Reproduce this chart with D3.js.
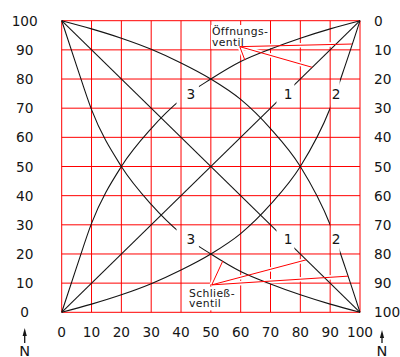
<!DOCTYPE html>
<html>
<head>
<meta charset="utf-8">
<script src="https://cdn.jsdelivr.net/npm/d3@7"></script>
<style>
  html, body { margin: 0; padding: 0; background: #fff; }
  svg { display: block; font-family: "DejaVu Sans", sans-serif; }
</style>
</head>
<body>
<svg id="chart" width="400" height="357"></svg>
<script>
// Valve stroke (%) on the x axis, flow (%) on the y axes.
const gridValues = [0, 10, 20, 30, 40, 50, 60, 70, 80, 90, 100];
const bottomTickLabels = ["0", "10", "20", "30", "40", "50", "60", "70", "80", "90", "100"];
const leftTickLabels = ["0", "10", "20", "30", "40", "50", "60", "70", "80", "90", "100"];
const rightTickLabels = ["0", "10", "20", "30", "40", "50", "60", "70", "80", "90", "100"];

// Characteristic 1: linear
const linearPts = [[0, 0], [100, 100]];
// Characteristic 2: equal-percentage type
const equalPctPts = [[0, 0], [10, 2.8], [20, 6], [30, 9.8], [40, 14.5], [50, 20], [60, 27],
                     [70, 37], [80, 50], [90, 70], [95, 84.5], [100, 100]];
// Characteristic 3: quick-opening type
const quickPts = [[0, 0], [5, 15.5], [10, 30.5], [20, 50], [30, 63], [40, 73], [50, 80],
                  [60, 86], [70, 90.3], [80, 94], [90, 97.2], [100, 100]];

const curveNames = ["1", "2", "3"];
const curveSeries = [linearPts, equalPctPts, quickPts];

const openingLabel = ["Öffnungs-", "ventil"];
const closingLabel = ["Schließ-", "ventil"];

// ---- layout ----
const W = 400, H = 357;
const plot = { left: 61.7, right: 360, top: 20.7, bottom: 312.3 };
const curveGaps = [[72, 78], [90, 93.2], [38.5, 46]];       // label gaps along the x axis
const curveLabelX = [75.9, 92, 43.3];
const curveLabelLevel = 75;                                  // on each valve's own axis
const openingLeader = { from: [59.7, 91.1], to: [[61.4, 86.5], [84, 84], [97.3, 92]] };
const closingLeader = { from: [50.3, 90.6], to: [[54, 82.4], [82, 82], [96, 87.6]] };

const svg = d3.select("#chart");
const x = d3.scaleLinear().domain([0, 100]).range([plot.left, plot.right]);
const yOpen = d3.scaleLinear().domain([0, 100]).range([plot.bottom, plot.top]);
const yClose = d3.scaleLinear().domain([0, 100]).range([plot.top, plot.bottom]);

const RED = "#ff0000";
const INK = "#151515";

// ---- grid ----
const grid = svg.append("g").attr("stroke", RED).attr("stroke-width", 1).attr("fill", "none");
grid.selectAll("line.v").data(gridValues).join("line").attr("class", "v")
  .attr("x1", d => x(d)).attr("x2", d => x(d))
  .attr("y1", plot.top).attr("y2", plot.bottom);
grid.selectAll("line.h").data(gridValues).join("line").attr("class", "h")
  .attr("y1", d => yOpen(d)).attr("y2", d => yOpen(d))
  .attr("x1", plot.left).attr("x2", plot.right);

// ---- tick labels ----
const tickFont = 13.7;
const labels = svg.append("g").attr("fill", INK).attr("font-size", tickFont);
labels.selectAll("text.l").data(gridValues).join("text").attr("class", "l")
  .attr("x", 24.7).attr("y", d => yOpen(d) + 5)
  .attr("text-anchor", "middle").text((d, i) => leftTickLabels[i]);
labels.selectAll("text.r").data(gridValues).join("text").attr("class", "r")
  .attr("x", 374).attr("y", d => yClose(d) + 5)
  .attr("text-anchor", "start").text((d, i) => rightTickLabels[i]);
labels.selectAll("text.b").data(gridValues).join("text").attr("class", "b")
  .attr("x", d => x(d)).attr("y", 337)
  .attr("text-anchor", "middle").text((d, i) => bottomTickLabels[i]);

// ---- layers ----
const bgLayer = svg.append("g");
const casingLayer = svg.append("g");
const curveLayer = svg.append("g");
const leaderLayer = svg.append("g");
const textLayer = svg.append("g");

// ---- two-line note labels with a white background ----
const noteFont = 10.8;
function noteText(g, lines, x0, baseline0) {
  const t = g.append("text").attr("fill", INK).attr("font-size", noteFont)
    .attr("letter-spacing", 0.35).attr("x", x0).attr("y", baseline0);
  lines.forEach((s, i) => t.append("tspan").attr("x", x0).attr("y", baseline0 + i * 10.7).text(s));
  return t;
}
const openNote = noteText(textLayer, openingLabel, 212, 35);
const closeNote = noteText(textLayer, closingLabel, 189, 296.7);
[openNote, closeNote].forEach(n => {
  const b = n.node().getBBox();
  bgLayer.append("rect").attr("x", b.x - 1).attr("y", b.y).attr("width", b.width + 2)
    .attr("height", b.height).attr("fill", "#fff");
});

// ---- leaders (white casing hides the grid underneath) ----
function drawLeader(spec, yScale) {
  const [fx, fy] = spec.from;
  spec.to.forEach(([tx, ty]) => {
    casingLayer.append("line")
      .attr("x1", x(fx)).attr("y1", yScale(fy)).attr("x2", x(tx)).attr("y2", yScale(ty))
      .attr("stroke", "#fff").attr("stroke-width", 4.5);
    leaderLayer.append("line")
      .attr("x1", x(fx)).attr("y1", yScale(fy)).attr("x2", x(tx)).attr("y2", yScale(ty))
      .attr("stroke", RED).attr("stroke-width", 1);
  });
}
drawLeader(openingLeader, yOpen);
drawLeader(closingLeader, yClose);

// ---- characteristic curves ----
const defs = svg.append("defs");
curveGaps.forEach((gap, i) => {
  const cp = defs.append("clipPath").attr("id", "gap" + i);
  cp.append("rect").attr("x", 0).attr("y", 0).attr("width", x(gap[0])).attr("height", H);
  cp.append("rect").attr("x", x(gap[1])).attr("y", 0).attr("width", W - x(gap[1])).attr("height", H);
});

[yOpen, yClose].forEach(yScale => {
  const line = d3.line().x(d => x(d[0])).y(d => yScale(d[1])).curve(d3.curveMonotoneX);
  curveSeries.forEach((pts, i) => {
    curveLayer.append("path").attr("d", line(pts))
      .attr("fill", "none").attr("stroke", INK).attr("stroke-width", 1.1)
      .attr("clip-path", `url(#gap${i})`);
    textLayer.append("text")
      .attr("x", x(curveLabelX[i])).attr("y", yScale(curveLabelLevel) + 5)
      .attr("text-anchor", "middle").attr("font-size", tickFont).attr("fill", INK)
      .text(curveNames[i]);
  });
});

// ---- north arrows ----
[24.7, 382].forEach((ax, i) => {
  const top = i === 0 ? 328 : 330;
  const g = svg.append("g").attr("fill", INK).attr("stroke", INK);
  g.append("line").attr("x1", ax).attr("x2", ax).attr("y1", top + 6).attr("y2", 343).attr("stroke-width", 1.3);
  g.append("path").attr("d", `M${ax},${top} L${ax + 2.1},${top + 8} L${ax - 2.1},${top + 8} Z`).attr("stroke", "none");
  g.append("text").attr("x", ax).attr("y", 355.5).attr("text-anchor", "middle")
    .attr("font-size", 14.5).attr("stroke", "none").text("N");
});
</script>
</body>
</html>
